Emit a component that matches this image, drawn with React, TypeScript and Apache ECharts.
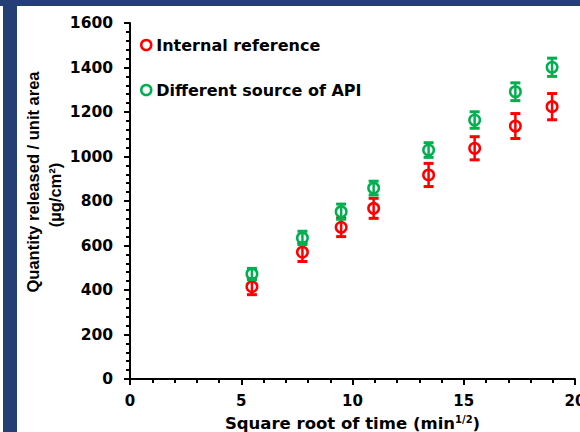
import React, { useEffect, useRef } from "react";
import * as echarts from "echarts";

const xValues = [5.48, 7.75, 9.49, 10.95, 13.42, 15.49, 17.32, 18.97];
const internalRef = [415, 570, 682, 767, 917, 1037, 1137, 1224];
const internalErr = [36, 42, 42, 45, 52, 52, 56, 59];
const differentSrc = [472, 634, 752, 858, 1029, 1164, 1291, 1401];
const differentErr = [25, 30, 34, 31, 33, 37, 40, 41];
const seriesNames = ["Internal reference", "Different source of API"];
const xTitle = "Square root of time (min";
const yTitle1 = "Quantity released / unit area";
const yTitle2 = "(µg/cm²)";

const RED = "#ff0000";
const GREEN = "#00b050";
const FRAME = "#243f75";
const H_FONT = "DejaVu Sans";
const V_FONT = "Liberation Sans";

function errData(vals: number[], errs: number[]) {
  return xValues.map((x, i) => [x, vals[i] - errs[i], vals[i] + errs[i]]);
}

function errSeries(name: string, vals: number[], errs: number[], color: string, z: number) {
  return {
    type: "custom",
    name,
    z,
    data: errData(vals, errs),
    renderItem: (params: any, api: any) => {
      const x = api.value(0);
      const lo = api.value(1);
      const hi = api.value(2);
      const pHi = api.coord([x, hi]);
      const pLo = api.coord([x, lo]);
      const hw = 5;
      return {
        type: "group",
        children: [
          { type: "line", shape: { x1: pHi[0], y1: pHi[1], x2: pLo[0], y2: pLo[1] }, style: { stroke: color, lineWidth: 2.5 } },
          { type: "line", shape: { x1: pHi[0] - hw, y1: pHi[1], x2: pHi[0] + hw, y2: pHi[1] }, style: { stroke: color, lineWidth: 3 } },
          { type: "line", shape: { x1: pLo[0] - hw, y1: pLo[1], x2: pLo[0] + hw, y2: pLo[1] }, style: { stroke: color, lineWidth: 3 } },
        ],
      };
    },
  };
}

function scatterSeries(name: string, vals: number[], color: string, z: number) {
  return {
    type: "scatter",
    name,
    z,
    data: xValues.map((x, i) => [x, vals[i]]),
    symbol: "circle",
    symbolSize: 10.5,
    itemStyle: { color: "rgba(255,255,255,0)", borderColor: color, borderWidth: 2.5, opacity: 1 },
  };
}

export default function App() {
  const ref = useRef<HTMLDivElement>(null);
  useEffect(() => {
    if (!ref.current) return;
    const chart = echarts.init(ref.current, null, { renderer: "svg" });
    const axisCommon = {
      type: "value",
      axisLine: { show: true, lineStyle: { color: "#000", width: 2 } },
      axisTick: { show: true, length: 6, lineStyle: { color: "#000", width: 2 } },
      minorTick: { show: true, splitNumber: 5, length: 4, lineStyle: { color: "#000", width: 2 } },
      splitLine: { show: false },
      minorSplitLine: { show: false },
    };
    chart.setOption({
      animation: false,
      backgroundColor: "#fff",
      grid: { left: 130, right: 5, top: 23, bottom: 53, containLabel: false, outerBoundsMode: "none" },
      xAxis: {
        ...axisCommon,
        min: 0,
        max: 20,
        interval: 5,
        axisLabel: { fontFamily: H_FONT, fontWeight: "bold", fontSize: 15, color: "#000", margin: 14, formatter: (v: number) => String(v) },
        name: `{b|${xTitle}}{s|1/2}{b|)}`,
        nameLocation: "middle",
        nameGap: 35,
        nameTextStyle: {
          rich: {
            b: { fontFamily: H_FONT, fontWeight: "bold", fontSize: 16.5, color: "#000", lineHeight: 18 },
            s: { fontFamily: H_FONT, fontWeight: "bold", fontSize: 10, color: "#000", lineHeight: 18, verticalAlign: "top" },
          },
        },
      },
      yAxis: {
        ...axisCommon,
        min: 0,
        max: 1600,
        interval: 200,
        axisLabel: { fontFamily: H_FONT, fontWeight: "bold", fontSize: 15.5, color: "#000", margin: 17, formatter: (v: number) => String(v) },
      },
      legend: {
        orient: "vertical",
        left: 135,
        top: 32,
        itemWidth: 10,
        itemHeight: 10,
        itemGap: 29,
        textStyle: { fontFamily: H_FONT, fontWeight: "bold", fontSize: 16, color: "#000", lineHeight: 16 },
        data: [
          { name: seriesNames[0], icon: "circle", itemStyle: { color: "#fff", borderColor: RED, borderWidth: 2.5, opacity: 1 } },
          { name: seriesNames[1], icon: "circle", itemStyle: { color: "#fff", borderColor: GREEN, borderWidth: 2.5, opacity: 1 } },
        ],
      },
      graphic: [
        { type: "rect", shape: { x: 0, y: 0, width: 580, height: 6 }, style: { fill: FRAME }, z: -1 },
        { type: "rect", shape: { x: 3, y: 0, width: 14, height: 432 }, style: { fill: FRAME }, z: -1 },
        {
          type: "text",
          x: 33,
          y: 182,
          rotation: Math.PI / 2,
          style: { text: yTitle1, fontFamily: V_FONT, fontWeight: "bold", fontSize: 16.5, fill: "#000", align: "center", verticalAlign: "middle" },
        },
        {
          type: "text",
          x: 55,
          y: 195,
          rotation: Math.PI / 2,
          style: { text: yTitle2, fontFamily: V_FONT, fontWeight: "bold", fontSize: 16.5, fill: "#000", align: "center", verticalAlign: "middle" },
        },
      ],
      series: [
        scatterSeries(seriesNames[0], internalRef, RED, 2),
        errSeries("err-internal", internalRef, internalErr, RED, 3),
        scatterSeries(seriesNames[1], differentSrc, GREEN, 4),
        errSeries("err-different", differentSrc, differentErr, GREEN, 5),
      ],
    });
    return () => chart.dispose();
  }, []);
  return <div ref={ref} style={{ position: "fixed", left: 0, top: 0, width: 580, height: 432 }} />;
}
